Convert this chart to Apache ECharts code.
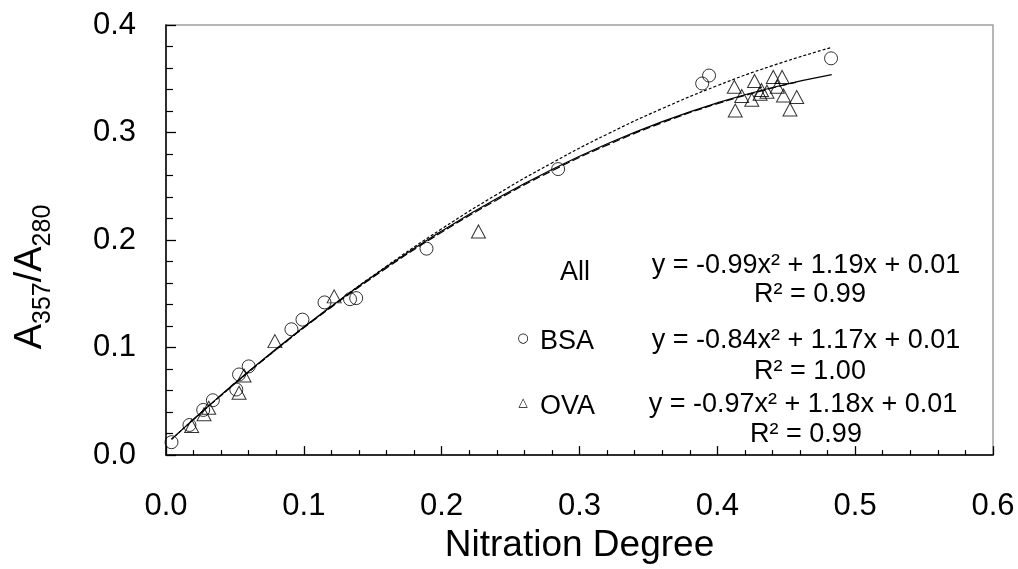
<!DOCTYPE html>
<html>
<head>
<meta charset="utf-8">
<script src="https://cdn.jsdelivr.net/npm/echarts@6/dist/echarts.min.js"></script>
<style>
  html, body { margin: 0; padding: 0; background: #fff; }
  #main { width: 1018px; height: 569px; }
</style>
</head>
<body>
<div id="main"></div>
<script>
// 数据点 [Nitration Degree, A357/A280]
var bsaPoints = [
    [0.004, 0.012], [0.017, 0.028], [0.027, 0.042], [0.034, 0.051],
    [0.051, 0.061], [0.053, 0.075], [0.060, 0.0825], [0.091, 0.117],
    [0.099, 0.126], [0.115, 0.142], [0.1335, 0.145], [0.138, 0.146],
    [0.189, 0.192], [0.2845, 0.266], [0.389, 0.3456], [0.394, 0.353],
    [0.4825, 0.369]
];
var ovaPoints = [
    [0.0186, 0.027], [0.0276, 0.038], [0.031, 0.044], [0.053, 0.058],
    [0.0566, 0.074], [0.079, 0.106], [0.122, 0.1476], [0.2267, 0.208],
    [0.4123, 0.3426], [0.413, 0.3205], [0.4177, 0.334], [0.425, 0.3304],
    [0.427, 0.348], [0.431, 0.336], [0.432, 0.3395], [0.436, 0.338],
    [0.4406, 0.3517], [0.4435, 0.3426], [0.447, 0.3517], [0.448, 0.3344],
    [0.4527, 0.3214], [0.4576, 0.333]
];
// 拟合曲线 (按图上方程读出的点)
var fitAll = [
    [0.004, 0.0147], [0.04, 0.0560], [0.08, 0.0989], [0.12, 0.1385],
    [0.16, 0.1751], [0.2, 0.2084], [0.24, 0.2386], [0.28, 0.2656],
    [0.32, 0.2894], [0.36, 0.3101], [0.4, 0.3276], [0.44, 0.3419],
    [0.483, 0.3538]
];
var fitBsa = [
    [0.004, 0.0147], [0.04, 0.0555], [0.08, 0.0982], [0.12, 0.1383],
    [0.16, 0.1757], [0.2, 0.2104], [0.24, 0.2424], [0.28, 0.2717],
    [0.32, 0.2984], [0.36, 0.3223], [0.4, 0.3436], [0.44, 0.3622],
    [0.483, 0.3792]
];
var fitOva = [
    [0.019, 0.0321], [0.04, 0.0556], [0.08, 0.0982], [0.12, 0.1376],
    [0.16, 0.1740], [0.2, 0.2072], [0.24, 0.2373], [0.28, 0.2644],
    [0.32, 0.2883], [0.36, 0.3091], [0.4, 0.3268], [0.44, 0.3414],
    [0.457, 0.3467]
];
var labels = ['All', 'BSA', 'OVA'];
var equations = [
    'y = -0.99x² + 1.19x + 0.01',
    'y = -0.84x² + 1.17x + 0.01',
    'y = -0.97x² + 1.18x + 0.01'
];
var r2Texts = ['R² = 0.99', 'R² = 1.00', 'R² = 0.99'];

var FONT = '"Liberation Sans", Arial, sans-serif';

function noteText(str, x, y, align) {
    return {
        type: 'text', x: x, y: y,
        style: {
            text: str, font: '27px ' + FONT, fill: '#000',
            align: align || 'center', verticalAlign: 'middle'
        }
    };
}

var myChart = echarts.init(document.getElementById('main'));

var option = {
    backgroundColor: '#fff',
    animation: false,
    grid: {
        left: 166, top: 25, right: 25, bottom: 103,
        show: true, borderColor: '#a0a0a0', borderWidth: 1.5
    },
    xAxis: {
        type: 'value', min: 0, max: 0.6, interval: 0.1,
        name: 'Nitration Degree', nameLocation: 'middle', nameGap: 68,
        nameTextStyle: { fontSize: 37, color: '#000', fontFamily: FONT },
        axisLine: { show: true, onZero: false, lineStyle: { color: '#000', width: 1.5 } },
        axisTick: { show: true, inside: true, length: 9, lineStyle: { color: '#000', width: 1.3 } },
        minorTick: { show: true, splitNumber: 5, length: 5, lineStyle: { color: '#000', width: 1.2 } },
        splitLine: { show: false },
        axisLabel: {
            fontSize: 31, color: '#000', fontFamily: FONT, margin: 36,
            formatter: function (v) { return v.toFixed(1); }
        }
    },
    yAxis: {
        type: 'value', min: 0, max: 0.4, interval: 0.1,
        axisLine: { show: true, onZero: false, lineStyle: { color: '#000', width: 1.5 } },
        axisTick: { show: true, inside: true, length: 10, lineStyle: { color: '#000', width: 1.3 } },
        minorTick: { show: true, splitNumber: 5, length: 7, lineStyle: { color: '#000', width: 1.2 } },
        splitLine: { show: false },
        axisLabel: {
            fontSize: 31, color: '#000', fontFamily: FONT, margin: 30,
            formatter: function (v) { return v.toFixed(1); }
        }
    },
    graphic: [
        {
            type: 'text', x: 31, y: 277, rotation: Math.PI / 2,
            style: {
                text: '{a|A}{s|357}{a|/A}{s|280}',
                align: 'center', verticalAlign: 'middle', fill: '#000',
                rich: {
                    a: { fontSize: 38, lineHeight: 38, fontFamily: FONT, verticalAlign: 'top', fill: '#000' },
                    s: { fontSize: 25, lineHeight: 25, fontFamily: FONT, verticalAlign: 'top', padding: [19, 0, 0, 0], fill: '#000' }
                }
            }
        },
        noteText(labels[0], 575, 273),
        {
            type: 'text', x: 523, y: 339,
            style: { text: '○', font: '13px "DejaVu Sans"', fill: '#000', align: 'center', verticalAlign: 'middle' }
        },
        noteText(labels[1], 540, 342, 'left'),
        {
            type: 'text', x: 523, y: 403,
            style: { text: '△', font: '12px "DejaVu Sans"', fill: '#000', align: 'center', verticalAlign: 'middle' }
        },
        noteText(labels[2], 540, 407, 'left'),
        noteText(equations[0], 806, 266),
        noteText(r2Texts[0], 810, 295),
        noteText(equations[1], 806, 341),
        noteText(r2Texts[1], 810, 372),
        noteText(equations[2], 803, 405),
        noteText(r2Texts[2], 806, 435)
    ],
    series: [
        {
            name: 'All fit', type: 'line', data: fitAll, smooth: true,
            showSymbol: false, silent: true,
            lineStyle: { color: '#000', width: 1.2, type: 'solid' }
        },
        {
            name: 'BSA fit', type: 'line', data: fitBsa, smooth: true,
            showSymbol: false, silent: true,
            lineStyle: { color: '#000', width: 1.2, type: [3, 2] }
        },
        {
            name: 'OVA fit', type: 'line', data: fitOva, smooth: true,
            showSymbol: false, silent: true,
            lineStyle: { color: '#000', width: 1.2, type: [8, 3] }
        },
        {
            name: 'BSA', type: 'scatter', data: bsaPoints,
            symbol: 'circle', symbolSize: 13,
            itemStyle: { color: 'rgba(255,255,255,0)', borderColor: '#000', borderWidth: 1 }
        },
        {
            name: 'OVA', type: 'scatter', data: ovaPoints,
            symbol: 'triangle', symbolSize: [14, 13],
            itemStyle: { color: 'rgba(255,255,255,0)', borderColor: '#000', borderWidth: 1 }
        }
    ]
};

myChart.setOption(option);
</script>
</body>
</html>
